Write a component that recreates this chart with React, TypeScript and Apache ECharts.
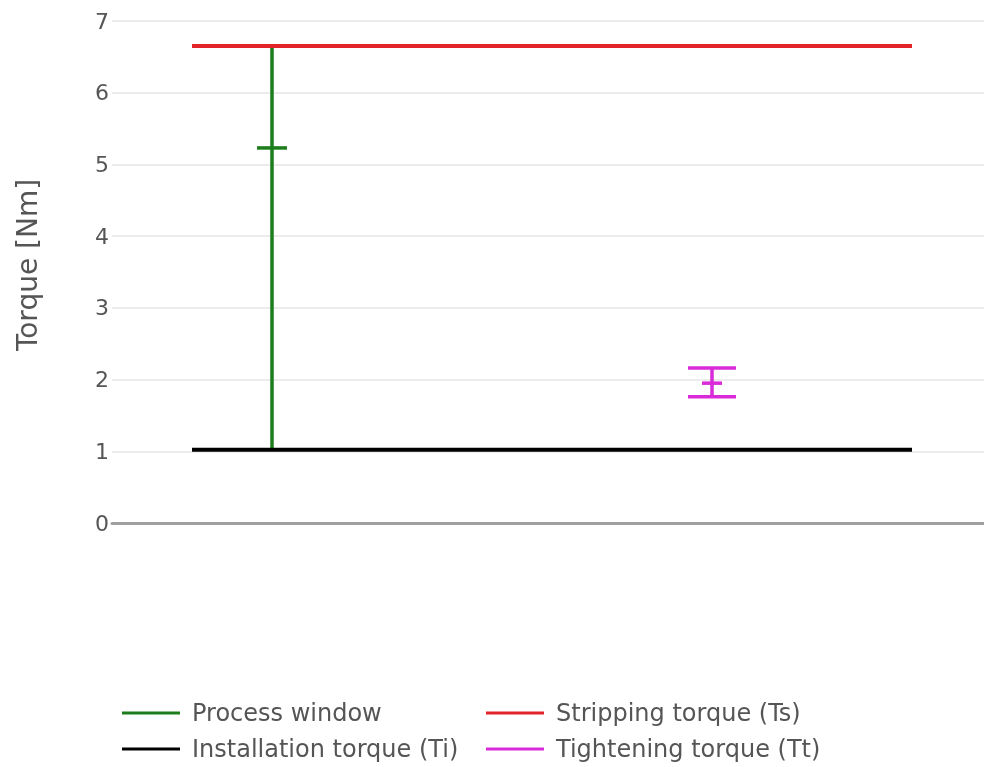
import React, { useEffect, useRef } from "react";
import * as echarts from "echarts";

// Data
const lineXs = [0, 9];
const strippingTorque = 6.65;
const installationTorque = 1.02;
// process window: [x, low, high, center]
const processWindow = [1, 1.02, 6.65, 5.23];
// tightening torque: [x, low, high, center]
const tighteningTorque = [6.5, 1.76, 2.16, 1.95];
const yTicks = [0, 1, 2, 3, 4, 5, 6, 7];
const yTitle = "Torque [Nm]";

const FONT = "DejaVu Sans";

export default function App() {
  const ref = useRef<HTMLDivElement>(null);
  useEffect(() => {
    if (!ref.current) return;
    const chart = echarts.init(ref.current, null, { renderer: "svg" });

    const errRender = (capPx: number, centerPx: number, color: string, width: number) =>
      (params: any, api: any) => {
        const x = api.value(0);
        const lo = api.coord([x, api.value(1)]);
        const hi = api.coord([x, api.value(2)]);
        const c = api.coord([x, api.value(3)]);
        const style = { stroke: color, lineWidth: width };
        const children: any[] = [
          { type: "line", shape: { x1: lo[0], y1: lo[1], x2: hi[0], y2: hi[1] }, style },
          { type: "line", shape: { x1: c[0] - centerPx, y1: c[1], x2: c[0] + centerPx, y2: c[1] }, style },
        ];
        if (capPx > 0) {
          children.push(
            { type: "line", shape: { x1: lo[0] - capPx, y1: lo[1], x2: lo[0] + capPx, y2: lo[1] }, style },
            { type: "line", shape: { x1: hi[0] - capPx, y1: hi[1], x2: hi[0] + capPx, y2: hi[1] }, style }
          );
        }
        return { type: "group", children };
      };

    const green = "#1b7d1b";
    const red = "#e3232a";
    const black = "#000000";
    const magenta = "#d92bd9";

    const legendCommon = {
      orient: "vertical",
      top: 701,
      padding: 0,
      itemGap: 12,
      itemWidth: 58,
      itemHeight: 3,
      icon: "rect",
      textStyle: { fontFamily: FONT, fontSize: 24, color: "#555", padding: [0, 0, 0, 7] },
    };

    chart.setOption({
      animation: false,
      grid: { left: 112, right: 0, top: 21, bottom: 244 },
      graphic: [
        {
          type: "text",
          x: 27,
          y: 265,
          rotation: Math.PI / 2,
          style: {
            text: yTitle,
            fontFamily: FONT,
            fontSize: 28,
            fill: "#555",
            align: "center",
            verticalAlign: "middle",
          },
        },
      ],
      xAxis: {
        type: "value",
        min: -1,
        max: 9.9,
        axisLine: { show: true, onZero: false, lineStyle: { color: "#a0a0a0", width: 3 } },
        axisTick: { show: false },
        axisLabel: { show: false },
        splitLine: { show: false },
      },
      yAxis: {
        type: "value",
        min: yTicks[0],
        max: yTicks[yTicks.length - 1],
        interval: 1,
        axisLine: { show: false },
        axisTick: { show: false },
        axisLabel: { fontFamily: FONT, fontSize: 22, color: "#555", margin: 3 },
        splitLine: { lineStyle: { color: "#ececec", width: 2 } },
      },
      legend: [
        { ...legendCommon, left: 122, data: ["Process window", "Installation torque (Ti)"] },
        { ...legendCommon, left: 486, data: ["Stripping torque (Ts)", "Tightening torque (Tt)"] },
      ],
      series: [
        {
          name: "Installation torque (Ti)",
          type: "line",
          data: lineXs.map((x) => [x, installationTorque]),
          symbol: "none",
          lineStyle: { color: black, width: 4 },
          itemStyle: { color: black },
          z: 3,
        },
        {
          name: "Process window",
          type: "custom",
          data: [processWindow],
          renderItem: errRender(0, 15, green, 3.5),
          itemStyle: { color: green },
          encode: { x: 0, y: [1, 2, 3] },
          z: 2,
        },
        {
          name: "Stripping torque (Ts)",
          type: "line",
          data: lineXs.map((x) => [x, strippingTorque]),
          symbol: "none",
          lineStyle: { color: red, width: 4 },
          itemStyle: { color: red },
          z: 3,
        },
        {
          name: "Tightening torque (Tt)",
          type: "custom",
          data: [tighteningTorque],
          renderItem: errRender(24, 10, magenta, 3.5),
          itemStyle: { color: magenta },
          encode: { x: 0, y: [1, 2, 3] },
          z: 2,
        },
      ],
    });
    return () => chart.dispose();
  }, []);
  return (
    <div
      ref={ref}
      style={{ position: "fixed", left: 0, top: 0, width: 984, height: 767 }}
    />
  );
}
